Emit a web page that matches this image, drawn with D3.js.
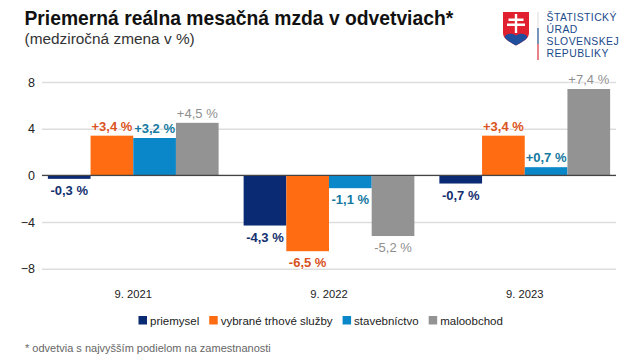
<!DOCTYPE html>
<html>
<head>
<meta charset="utf-8">
<script src="https://cdn.jsdelivr.net/npm/d3@7"></script>
<style>
  html, body { margin: 0; padding: 0; background: #fff; }
  text { font-family: "Liberation Sans", Arial, sans-serif; }
</style>
</head>
<body>
<div id="chart"></div>
<script>
// values
const periods = ["9. 2021", "9. 2022", "9. 2023"];
const seriesNames = ["priemysel", "vybrané trhové služby", "stavebníctvo", "maloobchod"];
const priemysel = [-0.3, -4.3, -0.7];
const sluzby = [3.4, -6.5, 3.4];
const stavebnictvo = [3.2, -1.1, 0.7];
const maloobchod = [4.5, -5.2, 7.4];
const yTicks = [-8, -4, 0, 4, 8];
const barColors = ["#0b2a74", "#ff6c12", "#0a87c8", "#939393"];
const labelColors = ["#14306f", "#d9531e", "#14789f", "#8f8f8f"];
const labelWeights = ["bold", "bold", "bold", "normal"];
const logoLines = ["ŠTATISTICKÝ", "ÚRAD", "SLOVENSKEJ", "REPUBLIKY"];

const allSeries = [priemysel, sluzby, stavebnictvo, maloobchod];
const width = 640, height = 360;

const svg = d3.select("#chart").append("svg")
    .attr("width", width)
    .attr("height", height)
    .style("display", "block");

// title block
svg.append("text").attr("x", 24.5).attr("y", 24.5)
    .style("font-size", "19.3px").style("font-weight", "bold").style("fill", "#111")
    .text("Priemerná reálna mesačná mzda v odvetviach*");
svg.append("text").attr("x", 24.5).attr("y", 43.5)
    .style("font-size", "15.4px").style("fill", "#333")
    .text("(medziročná zmena v %)");

// scales
const x0 = d3.scaleBand().domain(periods).range([42, 616]).paddingInner(0.1277).paddingOuter(0.03);
const x1 = d3.scaleBand().domain(seriesNames).range([0, x0.bandwidth()]);
const y = d3.scaleLinear().domain([-8, 8]).range([268.7, 82]);

// grid + y labels
const yAxis = svg.append("g")
    .attr("transform", "translate(42,0)")
    .call(d3.axisLeft(y).tickValues(yTicks).tickSize(-574).tickPadding(7).tickFormat(d3.format("d")));
yAxis.select(".domain").remove();
yAxis.selectAll("line").style("stroke", "#dddddd").style("stroke-width", 1.4);
yAxis.selectAll("text").style("font-size", "12.5px").style("fill", "#222")
    .style("font-family", '"Liberation Sans", Arial, sans-serif');

// bars
const groups = svg.selectAll(".period")
    .data(periods)
    .join("g")
    .attr("class", "period")
    .attr("transform", d => `translate(${x0(d)},0)`);

seriesNames.forEach(function(name, s) {
    groups.append("rect")
        .attr("x", x1(name))
        .attr("width", x1.bandwidth())
        .attr("y", (d, i) => y(Math.max(0, allSeries[s][i])))
        .attr("height", (d, i) => Math.abs(y(allSeries[s][i]) - y(0)))
        .style("fill", barColors[s]);
});

// zero line goes over the bars
svg.append("line")
    .attr("x1", 42).attr("x2", 616)
    .attr("y1", y(0)).attr("y2", y(0))
    .style("stroke", "#444").style("stroke-width", 1.2);

// value labels, white halo breaks the grid lines
function fmt(v) {
    return (v > 0 ? "+" : "-") + Math.abs(v).toFixed(1).replace(".", ",") + " %";
}
seriesNames.forEach(function(name, s) {
    groups.append("text")
        .attr("x", x1(name) + x1.bandwidth() / 2)
        .attr("y", (d, i) => allSeries[s][i] >= 0 ? y(allSeries[s][i]) - 5 : y(allSeries[s][i]) + 16)
        .attr("text-anchor", "middle")
        .style("font-size", "13px")
        .style("font-weight", labelWeights[s])
        .style("fill", labelColors[s])
        .style("paint-order", "stroke")
        .style("stroke", "#fff")
        .style("stroke-width", 1.5)
        .text((d, i) => fmt(allSeries[s][i]));
});

// period labels
svg.selectAll(".period-label")
    .data(periods)
    .join("text")
    .attr("class", "period-label")
    .attr("x", d => x0(d) + x0.bandwidth() / 2)
    .attr("y", 298)
    .attr("text-anchor", "middle")
    .style("font-size", "11.2px")
    .style("fill", "#222")
    .text(d => d);

// legend, items placed one after another
let legendX = 138.5;
seriesNames.forEach(function(name, s) {
    svg.append("rect")
        .attr("x", legendX).attr("y", 316)
        .attr("width", 8.5).attr("height", 8.5)
        .style("fill", barColors[s]);
    const t = svg.append("text")
        .attr("x", legendX + 11.5).attr("y", 324.5)
        .style("font-size", "11.5px").style("fill", "#222")
        .text(name);
    legendX += 11.5 + t.node().getComputedTextLength() + 10;
});

// footnote
svg.append("text").attr("x", 25).attr("y", 352)
    .style("font-size", "11px").style("fill", "#666")
    .text("* odvetvia s najvyšším podielom na zamestnanosti");

// logo
const logo = svg.append("g");
logo.append("path")
    .attr("d", "M503,12H529V33C529,39 522,42 516,45.5C510,42 503,39 503,33Z")
    .style("fill", "#e0202f");
logo.append("path")
    .attr("d", "M504.5,37C507,33 512,33 516,35.5C520,33 525,33 527.5,37C525,41 520,43 516,45.5C512,43 507,41 504.5,37Z")
    .style("fill", "#1f4e9c");
logo.append("path")
    .attr("d", "M514.8,14H517.2V18.5H523.5V20.9H517.2V23.5H525V25.9H517.2V33H514.8V25.9H507V23.5H514.8V20.9H508.5V18.5H514.8Z")
    .style("fill", "#fff");
logo.append("line").attr("x1", 538).attr("x2", 538).attr("y1", 12).attr("y2", 28)
    .style("stroke", "#e2e2e2").style("stroke-width", 1.2);
logo.append("line").attr("x1", 538).attr("x2", 538).attr("y1", 28).attr("y2", 44)
    .style("stroke", "#1f4e8c").style("stroke-width", 1.2);
logo.append("line").attr("x1", 538).attr("x2", 538).attr("y1", 44).attr("y2", 60)
    .style("stroke", "#d9303c").style("stroke-width", 1.2);
logo.selectAll(".logo-line")
    .data(logoLines)
    .join("text")
    .attr("class", "logo-line")
    .attr("x", 546.5)
    .attr("y", (d, i) => 21 + i * 12)
    .style("font-size", "10.4px")
    .style("letter-spacing", "0.45px")
    .style("fill", "#1a4a8a")
    .text(d => d);
</script>
</body>
</html>
